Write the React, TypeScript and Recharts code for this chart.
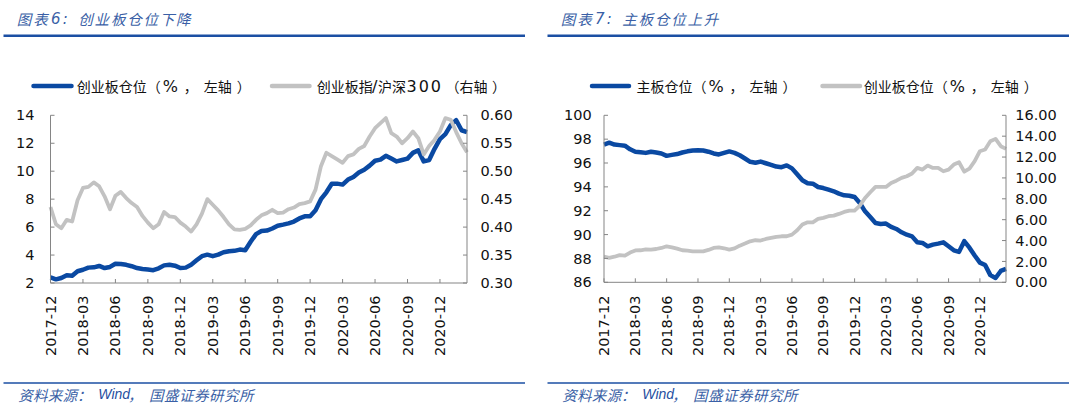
import React from 'react';
import { LineChart, Line, XAxis, YAxis } from 'recharts';

// ---------- categories ----------
const months = [
  '2017-12',
  '2018-01', '2018-02', '2018-03', '2018-04', '2018-05', '2018-06',
  '2018-07', '2018-08', '2018-09', '2018-10', '2018-11', '2018-12',
  '2019-01', '2019-02', '2019-03', '2019-04', '2019-05', '2019-06',
  '2019-07', '2019-08', '2019-09', '2019-10', '2019-11', '2019-12',
  '2020-01', '2020-02', '2020-03', '2020-04', '2020-05', '2020-06',
  '2020-07', '2020-08', '2020-09', '2020-10', '2020-11', '2020-12',
  '2021-01', '2021-02',
];
const dates = months.flatMap((m) => [`${m}-01`, `${m}-16`]);

// ---------- chart 6 series ----------
// 创业板仓位（%，左轴）
const gemPosition = [
  2.40, 2.26, 2.36, 2.55, 2.52, 2.84, 2.95, 3.10, 3.12, 3.22,
  3.07, 3.15, 3.38, 3.36, 3.30, 3.20, 3.07, 3.00, 2.96, 2.92,
  3.05, 3.26, 3.31, 3.24, 3.07, 3.10, 3.31, 3.62, 3.92, 4.03,
  3.92, 4.03, 4.20, 4.27, 4.30, 4.39, 4.35, 4.95, 5.50, 5.72,
  5.75, 5.90, 6.10, 6.18, 6.27, 6.40, 6.62, 6.77, 6.77, 7.20,
  8.00, 8.49, 9.10, 9.11, 9.04, 9.40, 9.59, 9.90, 10.10, 10.40,
  10.75, 10.83, 11.10, 10.90, 10.70, 10.80, 10.90, 11.31, 11.50, 10.70,
  10.80, 11.60, 12.30, 12.65, 13.30, 13.65, 12.93, 12.80,
];
// 创业板指/沪深300（右轴）
const gemToHs300 = [
  0.436, 0.405, 0.398, 0.413, 0.410, 0.448, 0.470, 0.472, 0.480, 0.473,
  0.455, 0.432, 0.456, 0.463, 0.452, 0.443, 0.436, 0.420, 0.408, 0.398,
  0.405, 0.427, 0.419, 0.418, 0.408, 0.401, 0.392, 0.405, 0.424, 0.450,
  0.440, 0.430, 0.418, 0.405, 0.396, 0.395, 0.397, 0.403, 0.413, 0.421,
  0.425, 0.431, 0.425, 0.426, 0.432, 0.435, 0.441, 0.443, 0.446, 0.467,
  0.509, 0.533, 0.527, 0.521, 0.515, 0.527, 0.530, 0.540, 0.545, 0.562,
  0.577, 0.586, 0.595, 0.568, 0.562, 0.550, 0.559, 0.571, 0.559, 0.530,
  0.545, 0.556, 0.571, 0.595, 0.592, 0.570, 0.550, 0.534,
];

// ---------- chart 7 series ----------
// 主板仓位（%，左轴）
const mainPosition = [
  97.55, 97.70, 97.55, 97.50, 97.45, 97.15, 96.95, 96.90, 96.85, 96.95,
  96.88, 96.80, 96.60, 96.68, 96.75, 96.88, 96.98, 97.05, 97.06, 97.05,
  96.95, 96.80, 96.72, 96.85, 96.97, 96.85, 96.65, 96.38, 96.10, 96.02,
  96.12, 95.98, 95.85, 95.70, 95.65, 95.80, 95.55, 95.05, 94.55, 94.30,
  94.27, 93.99, 93.90, 93.77, 93.63, 93.43, 93.29, 93.26, 93.15, 92.65,
  91.95, 91.47, 90.97, 90.89, 90.92, 90.64, 90.47, 90.19, 89.99, 89.85,
  89.35, 89.30, 89.02, 89.16, 89.24, 89.35, 89.02, 88.68, 88.55, 89.45,
  88.90, 88.25, 87.65, 87.45, 86.60, 86.36, 86.95, 87.12,
];
// 创业板仓位（%，右侧刻度）
const gemPosition2 = [
  2.45, 2.35, 2.45, 2.60, 2.55, 2.85, 3.05, 3.07, 3.15, 3.13,
  3.19, 3.29, 3.45, 3.35, 3.23, 3.07, 3.04, 2.97, 2.97, 2.97,
  3.10, 3.29, 3.35, 3.26, 3.13, 3.25, 3.51, 3.71, 3.93, 4.03,
  4.00, 4.15, 4.25, 4.35, 4.41, 4.41, 4.57, 4.98, 5.53, 5.75,
  5.75, 6.07, 6.17, 6.33, 6.39, 6.55, 6.74, 6.87, 6.87, 7.35,
  8.08, 8.63, 9.14, 9.14, 9.14, 9.52, 9.74, 10.00, 10.16, 10.42,
  10.96, 10.80, 11.18, 10.96, 10.96, 10.64, 10.80, 11.28, 11.50, 10.60,
  10.90, 11.60, 12.56, 12.72, 13.51, 13.74, 13.04, 12.78,
];

// ---------- ticks ----------
const leftTicks1 = [2, 4, 6, 8, 10, 12, 14];
const rightTicks1 = [0.3, 0.35, 0.4, 0.45, 0.5, 0.55, 0.6];
const leftTicks2 = [86, 88, 90, 92, 94, 96, 98, 100];
const rightTicks2 = [0, 2, 4, 6, 8, 10, 12, 14, 16];

const data1 = dates.map((d, i) => ({ date: d, gem: gemPosition[i], ratio: gemToHs300[i] }));
const data2 = dates.map((d, i) => ({ date: d, main: mainPosition[i], gem: gemPosition2[i] }));

// ---------- styles ----------
const BLUE = '#0a49a2';
const GRAY = '#c2c2c2';
const AX = '#858585';
const TXT = '#111111';
const TITLE = '#3a5fa6';
const RULE = '#1b4fa3';
const LATIN = "'DejaVu Sans', Verdana, sans-serif";
const CJK = "'Noto Sans CJK SC', 'Noto Sans', sans-serif";
const TICK_FS = 14.5;

const DateTick = (props: any) => {
  const { x, y, payload } = props;
  return (
    <text
      x={x}
      y={y}
      transform={`rotate(-90 ${x} ${y})`}
      textAnchor="end"
      dominantBaseline="central"
      fontSize={TICK_FS}
      fill={TXT}
      fontFamily={LATIN}
    >
      {String(payload.value).slice(0, 7)}
    </text>
  );
};

const tickStyle = { fontSize: TICK_FS, fill: TXT, fontFamily: LATIN };

// ---------- overlay pieces ----------
const Paren = ({ x, y, side }: { x: number; y: number; side: string }) => (
  <>
    <text x={x} y={y} fontFamily={CJK} fontSize={14} fill={TXT} dominantBaseline="central">（</text>
    <text x={x + 16} y={y} fontFamily={LATIN} fontSize={16} fill={TXT} dominantBaseline="central">%</text>
    <text x={x + 37} y={y} fontFamily={CJK} fontSize={14} fill={TXT} dominantBaseline="central">，</text>
    <text x={x + 57} y={y} fontFamily={CJK} fontSize={14} fill={TXT} dominantBaseline="central">{side}</text>
    <text x={x + 90} y={y} fontFamily={CJK} fontSize={14} fill={TXT} dominantBaseline="central">）</text>
  </>
);

const Header = ({ dx, num, title }: { dx: number; num: string; title: string }) => (
  <>
    <text x={16.7 + dx} y={18.5} fontFamily={CJK} fontSize={14.5} fontStyle="italic" letterSpacing={2} fill={TITLE} dominantBaseline="central">图表</text>
    <text x={51 + dx} y={18.5} fontFamily={LATIN} fontSize={15} fontStyle="italic" letterSpacing={2.3} fill={TITLE} dominantBaseline="central">{num}:</text>
    <text x={78.3 + dx} y={18.5} fontFamily={CJK} fontSize={14.5} fontStyle="italic" letterSpacing={1.8} fill={TITLE} dominantBaseline="central">{title}</text>
    <line x1={3.5 + dx} x2={525 + dx} y1={35.7} y2={35.7} stroke={RULE} strokeWidth={2.5} />
  </>
);

const Footer = ({ dx }: { dx: number }) => (
  <>
    <line x1={3.5 + dx} x2={525 + dx} y1={383} y2={383} stroke={RULE} strokeWidth={1.6} />
    <text x={18.3 + dx} y={394} fontFamily={CJK} fontSize={14.5} fontStyle="italic" letterSpacing={0.2} fill={TITLE} dominantBaseline="central">资料来源：</text>
    <text x={98.3 + dx} y={394} fontFamily="'Liberation Sans', Arial, sans-serif" fontSize={14} fontStyle="italic" fill="#1f4f9f" dominantBaseline="central">Wind</text>
    <text x={128 + dx} y={394} fontFamily={CJK} fontSize={14.5} fontStyle="italic" fill={TITLE} dominantBaseline="central">，</text>
    <text x={149 + dx} y={394} fontFamily={CJK} fontSize={14.5} fontStyle="italic" letterSpacing={0.5} fill={TITLE} dominantBaseline="central">国盛证券研究所</text>
  </>
);

const Overlay = () => (
  <svg width={1080} height={413} style={{ position: 'absolute', left: 0, top: 0, pointerEvents: 'none' }}>
    <Header dx={0} num="6" title="创业板仓位下降" />
    <Header dx={544} num="7" title="主板仓位上升" />

    {/* legend chart 6 */}
    <line x1={33.5} x2={71.5} y1={86} y2={86} stroke={BLUE} strokeWidth={4.5} strokeLinecap="round" />
    <text x={76.7} y={86} fontFamily={CJK} fontSize={14} fill={TXT} dominantBaseline="central">创业板仓位</text>
    <Paren x={146.7} y={86} side="左轴" />
    <line x1={272} x2={309.5} y1={86} y2={86} stroke={GRAY} strokeWidth={4.5} strokeLinecap="round" />
    <text x={316.8} y={86} fontFamily={CJK} fontSize={14} fill={TXT} dominantBaseline="central">创业板指</text>
    <text x={372} y={86} fontFamily={LATIN} fontSize={16} fill={TXT} dominantBaseline="central">/</text>
    <text x={378} y={86} fontFamily={CJK} fontSize={14} fill={TXT} dominantBaseline="central">沪深</text>
    <text x={406.5} y={86} fontFamily={LATIN} fontSize={16} letterSpacing={2} fill={TXT} dominantBaseline="central">300</text>
    <text x={445.5} y={86} fontFamily={CJK} fontSize={14} fill={TXT} dominantBaseline="central">（</text>
    <text x={459.5} y={86} fontFamily={CJK} fontSize={14} fill={TXT} dominantBaseline="central">右轴</text>
    <text x={492} y={86} fontFamily={CJK} fontSize={14} fill={TXT} dominantBaseline="central">）</text>

    {/* legend chart 7 */}
    <line x1={592} x2={629} y1={86} y2={86} stroke={BLUE} strokeWidth={4.5} strokeLinecap="round" />
    <text x={636.4} y={86} fontFamily={CJK} fontSize={14} fill={TXT} dominantBaseline="central">主板仓位</text>
    <Paren x={692.4} y={86} side="左轴" />
    <line x1={822.5} x2={860} y1={86} y2={86} stroke={GRAY} strokeWidth={4.5} strokeLinecap="round" />
    <text x={863.7} y={86} fontFamily={CJK} fontSize={14} fill={TXT} dominantBaseline="central">创业板仓位</text>
    <Paren x={933.7} y={86} side="左轴" />

    <Footer dx={0} />
    <Footer dx={544} />
  </svg>
);

export default function App() {
  return (
    <div style={{ position: 'absolute', left: 0, top: 0, width: 1080, height: 413, background: '#ffffff', overflow: 'hidden' }}>
      <div style={{ position: 'absolute', left: 0, top: 0 }}>
        <LineChart width={540} height={413} data={data1} margin={{ top: 115.3, right: 18, bottom: 70, left: 5.5 }}>
          <XAxis
            dataKey="date"
            interval={5}
            tick={(p: any) => <DateTick {...p} />}
            tickSize={-4}
            tickMargin={16.5}
            height={60}
            axisLine={{ stroke: AX }}
            tickLine={{ stroke: AX }}
          />
          <YAxis
            yAxisId="left"
            orientation="left"
            domain={[2, 14]}
            ticks={leftTicks1}
            interval={0}
            width={45}
            tickSize={-4}
            tickMargin={20}
            tick={tickStyle}
            axisLine={{ stroke: AX }}
            tickLine={{ stroke: AX }}
          />
          <YAxis
            yAxisId="right"
            orientation="right"
            domain={[0.3, 0.6]}
            ticks={rightTicks1}
            interval={0}
            width={55}
            tickSize={-4}
            tickMargin={17.4}
            tick={tickStyle}
            tickFormatter={(v: number) => v.toFixed(2)}
            axisLine={{ stroke: AX }}
            tickLine={{ stroke: AX }}
          />
          <Line yAxisId="left" type="linear" dataKey="gem" stroke={BLUE} strokeWidth={4.5} dot={false} strokeLinejoin="round" isAnimationActive={false} />
          <Line yAxisId="right" type="linear" dataKey="ratio" stroke={GRAY} strokeWidth={3.8} dot={false} strokeLinejoin="round" isAnimationActive={false} />
        </LineChart>
      </div>
      <div style={{ position: 'absolute', left: 540, top: 0 }}>
        <LineChart width={540} height={413} data={data2} margin={{ top: 115.3, right: 19, bottom: 70.7, left: 19 }}>
          <XAxis
            dataKey="date"
            interval={5}
            tick={(p: any) => <DateTick {...p} />}
            tickSize={-4}
            tickMargin={17.2}
            height={60}
            axisLine={{ stroke: AX }}
            tickLine={{ stroke: AX }}
          />
          <YAxis
            yAxisId="left"
            orientation="left"
            domain={[86, 100]}
            ticks={leftTicks2}
            interval={0}
            width={45}
            tickSize={-4}
            tickMargin={16.3}
            tick={tickStyle}
            axisLine={{ stroke: AX }}
            tickLine={{ stroke: AX }}
          />
          <YAxis
            yAxisId="right"
            orientation="right"
            domain={[0, 16]}
            ticks={rightTicks2}
            interval={0}
            width={55}
            tickSize={-4}
            tickMargin={13.2}
            tick={tickStyle}
            tickFormatter={(v: number) => v.toFixed(2)}
            axisLine={{ stroke: AX }}
            tickLine={{ stroke: AX }}
          />
          <Line yAxisId="left" type="linear" dataKey="main" stroke={BLUE} strokeWidth={4.5} dot={false} strokeLinejoin="round" isAnimationActive={false} />
          <Line yAxisId="right" type="linear" dataKey="gem" stroke={GRAY} strokeWidth={3.8} dot={false} strokeLinejoin="round" isAnimationActive={false} />
        </LineChart>
      </div>
      <Overlay />
    </div>
  );
}
